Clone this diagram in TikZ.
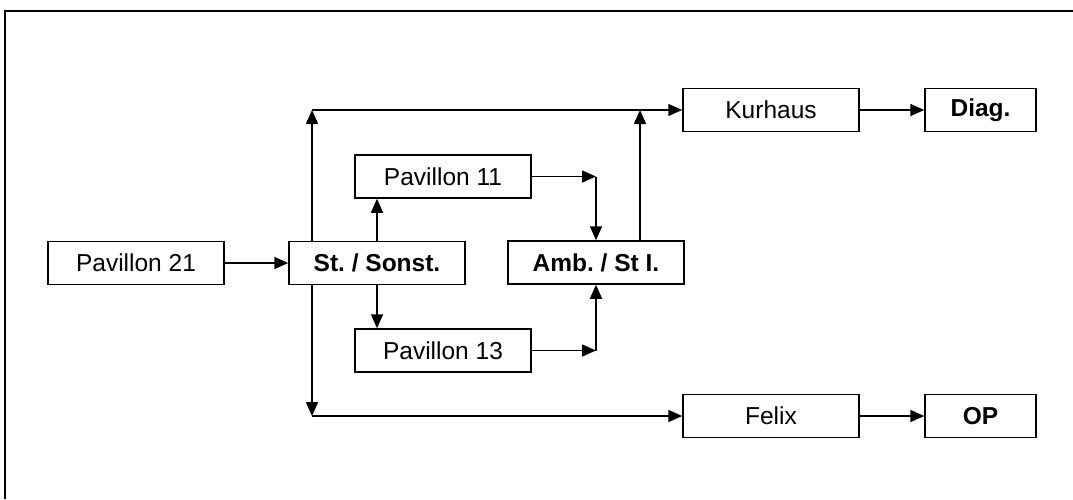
\documentclass[tikz,border=0pt]{standalone}
\usepackage{fontspec}
\setmainfont{Liberation Sans}
\usetikzlibrary{arrows.meta}
\frenchspacing
\begin{document}
\begin{tikzpicture}[x=1pt,y=-1pt,
  box/.style={draw=black,line width=1.5pt,minimum width=176pt,minimum height=43pt,inner sep=0pt,font=\fontsize{24.5}{28}\selectfont},
  sbox/.style={box,minimum width=111pt},
  bbox/.style={font=\fontsize{24.5}{28}\selectfont\bfseries},
  arr/.style={line width=1.6pt,-{Triangle[length=14pt,width=12pt]}},
  ln/.style={line width=1.6pt}]
\useasboundingbox (0,0) rectangle (1073,499);
% frame
\coordinate (f1) at (1073,11);
\coordinate (f2) at (5,11);
\coordinate (f3) at (5,499);
\draw[line width=1.8pt] (f1) -- (f2) -- (f3);
% nodes
\node[box] (p21) at (136,263) {Pavillon 21};
\node[box,bbox] (st) at (377,263) {St. / Sonst.};
\node[box] (p11) at (443,176.5) {Pavillon 11};
\node[box] (p13) at (443,350.5) {Pavillon 13};
\node[box,bbox] (amb) at (596,262.5) {Amb. / St I.};
\node[box] (kur) at (771,110) {Kurhaus};
\node[sbox,bbox] (diag) at (980.5,110) {Diag.};
\node[box] (felix) at (771,416) {Felix};
\node[sbox,bbox] (op) at (980.5,416) {OP};
% helper coordinates
\coordinate (top) at (312,110);
\coordinate (bot) at (312,416);
\coordinate (ambtop) at (640,110);
\coordinate (j1) at (amb.north |- p11.east);
\coordinate (j2) at (amb.south |- p13.east);
% connectors
\draw[arr] (p21.east) -- (st.west);
\draw[arr] (st.north -| top) -- (top);
\draw[arr] (top) -- (kur.west);
\draw[arr] (st.south -| bot) -- (bot);
\draw[arr] (bot) -- (felix.west);
\draw[arr] (st.north) -- (st.north |- p11.south);
\draw[arr] (st.south) -- (st.south |- p13.north);
\draw[arr] (p11.east) -- (j1);
\draw[arr] (j1) -- (amb.north);
\draw[arr] (p13.east) -- (j2);
\draw[arr] (j2) -- (amb.south);
\draw[arr] (amb.north -| ambtop) -- (ambtop);
\draw[arr] (kur.east) -- (diag.west);
\draw[arr] (felix.east) -- (op.west);
\end{tikzpicture}
\end{document}
